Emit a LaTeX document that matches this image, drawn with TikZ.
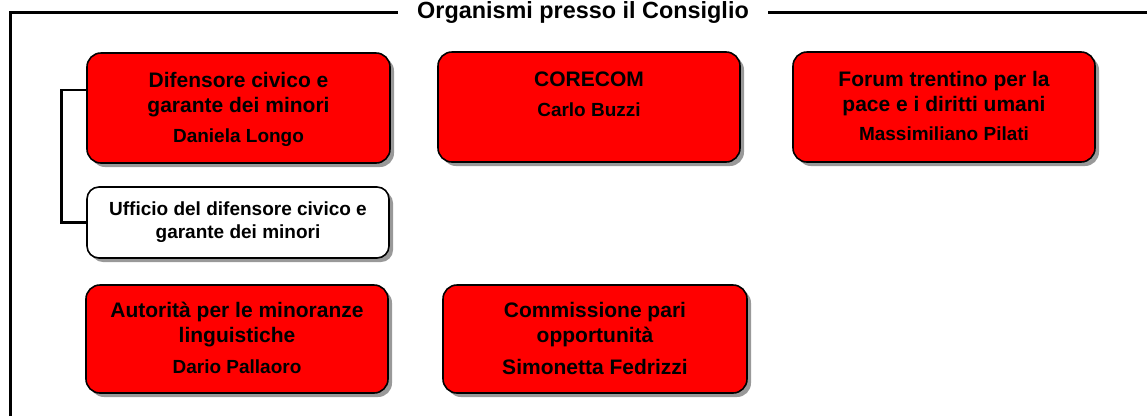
\documentclass[tikz,border=0pt]{standalone}
\usepackage{fontspec}
\setmainfont{Liberation Sans}
\usetikzlibrary{shadows}
\begin{document}
\begin{tikzpicture}[x=1pt,y=-1pt,
  box/.style={draw=black, line width=1.6pt, rounded corners=14pt, fill=red,
    drop shadow={shadow xshift=4pt, shadow yshift=-4pt, fill=black!40, opacity=1}},
  wbox/.style={box, fill=white, rounded corners=12pt},
  ttl/.style={font=\bfseries\fontsize{21}{25}\selectfont, align=center, inner sep=0pt, anchor=north},
  nm/.style={font=\bfseries\fontsize{19}{23}\selectfont, inner sep=0pt, anchor=base},
  utx/.style={font=\bfseries\fontsize{19}{23}\selectfont, align=center, inner sep=0pt},
  frame/.style={line width=3pt},
  conn/.style={line width=2.6pt}
]
\useasboundingbox (0,0) rectangle (1147,416);
% frame
\draw[frame] (10,416) -- (10,12) -- (1147,12);
\node[fill=white, inner sep=0pt, inner xsep=19pt, anchor=base, font=\bfseries\fontsize{23.4}{27}\selectfont] (title) at (583,18.5) {Organismi presso il Consiglio};
% boxes
\node[box, minimum width=303pt, minimum height=110pt] (dif) at (238.5,108) {};
\node[box, minimum width=302pt, minimum height=110pt] (cor) at (589,107) {};
\node[box, minimum width=302pt, minimum height=110pt] (for) at (944,107) {};
\node[wbox, minimum width=302pt, minimum height=71pt] (uff) at (238,222.5) {};
\node[box, minimum width=302pt, minimum height=108pt] (aut) at (237,339) {};
\node[box, minimum width=304pt, minimum height=108pt] (com) at (595,339) {};
% texts
\node[ttl] (dift) at ([yshift=-19.5pt]dif.north) {Difensore civico e\\garante dei minori};
\node[nm] (difn) at ([yshift=-90pt]dif.north) {Daniela Longo};
\node[ttl] (cort) at ([yshift=-20pt]cor.north) {CORECOM};
\node[nm] (corn) at ([yshift=-65pt]cor.north) {Carlo Buzzi};
\node[ttl] (fort) at ([yshift=-19.5pt]for.north) {Forum trentino per la\\pace e i diritti umani};
\node[nm] (forn) at ([yshift=-89pt]for.north) {Massimiliano Pilati};
\node[utx] (ufft) at (uff.center) {Ufficio del difensore civico e\\garante dei minori};
\node[ttl] (autt) at ([yshift=-17.5pt]aut.north) {Autorità per le minoranze\\linguistiche};
\node[nm] (autn) at ([yshift=-89pt]aut.north) {Dario Pallaoro};
\node[ttl] (comt) at ([yshift=-17.5pt]com.north) {Commissione pari\\opportunità};
\node[nm, font=\bfseries\fontsize{21}{25}\selectfont] (comn) at ([yshift=-90pt]com.north) {Simonetta Fedrizzi};
% connector
\draw[conn] ([yshift=18pt]dif.west) -- ++(-25,0) |- (uff.west);
\end{tikzpicture}
\end{document}
